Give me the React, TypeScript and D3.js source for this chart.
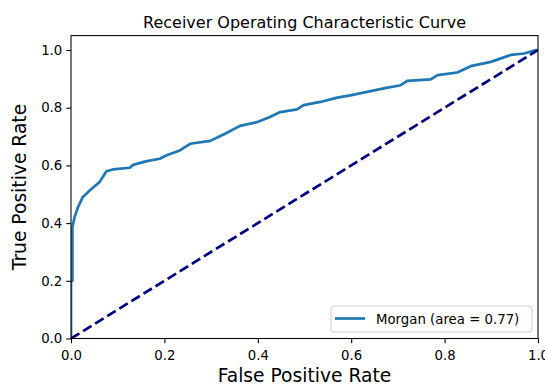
import React, { useEffect, useRef } from 'react';
import * as d3 from 'd3';

// ROC points (false positive rate, true positive rate)
const fpr = [0, 0, 0.003, 0.003, 0.0075, 0.015, 0.025, 0.04, 0.05, 0.061, 0.076, 0.09, 0.126, 0.133,
    0.16, 0.19, 0.205, 0.233, 0.255, 0.298, 0.33, 0.362, 0.398, 0.426, 0.448, 0.484, 0.498, 0.534,
    0.57, 0.598, 0.634, 0.67, 0.706, 0.72, 0.77, 0.785, 0.827, 0.856, 0.899, 0.942, 0.97, 0.996, 1];
const tpr = [0, 0.2, 0.2, 0.385, 0.42, 0.455, 0.49, 0.513, 0.527, 0.542, 0.58, 0.586, 0.592, 0.602,
    0.614, 0.623, 0.635, 0.652, 0.675, 0.685, 0.71, 0.737, 0.75, 0.768, 0.785, 0.794, 0.809, 0.82,
    0.835, 0.843, 0.855, 0.867, 0.878, 0.893, 0.898, 0.913, 0.922, 0.944, 0.959, 0.983, 0.988, 1, 1];

// chance line
const chanceX = [0, 1];
const chanceY = [0, 1];

const xTicks = [0, 0.2, 0.4, 0.6, 0.8, 1.0];
const yTicks = [0, 0.2, 0.4, 0.6, 0.8, 1.0];

const seriesLabel = 'Morgan (area = 0.77)';
const title = 'Receiver Operating Characteristic Curve';
const xLabel = 'False Positive Rate';
const yLabel = 'True Positive Rate';

const W = 545, H = 385;
const FONT = 'DejaVu Sans';

export default function App() {
    const ref = useRef(null);

    useEffect(() => {
        const svg = d3.select(ref.current);
        svg.selectAll('*').remove();

        const left = 71, right = 538, top = 35.6, bottom = 338.5;
        const x = d3.scaleLinear().domain([0, 1]).range([left, right]);
        const y = d3.scaleLinear().domain([0, 1.05]).range([bottom, top]);

        // clip so lines don't spill over the frame
        svg.append('defs').append('clipPath').attr('id', 'plotclip')
            .append('rect').attr('x', left).attr('y', top)
            .attr('width', right - left).attr('height', bottom - top);

        const plot = svg.append('g').attr('clip-path', 'url(#plotclip)');

        const rocPts = fpr.map((f, i) => [f, tpr[i]]);
        const line = d3.line()
            .x(d => x(d[0]))
            .y(d => y(d[1]));

        plot.append('path')
            .datum(rocPts)
            .attr('d', line)
            .attr('fill', 'none')
            .attr('stroke', '#1f77b4')
            .attr('stroke-width', 2.7)
            .attr('stroke-linejoin', 'round');

        const chancePts = chanceX.map((v, i) => [v, chanceY[i]]);
        plot.append('path')
            .datum(chancePts)
            .attr('d', d3.line().x(d => x(d[0])).y(d => y(d[1])))
            .attr('fill', 'none')
            .attr('stroke', '#000080')
            .attr('stroke-width', 2.7)
            .attr('stroke-dasharray', '9.9,4.3');

        // axes
        const xAxis = d3.axisBottom(x).tickValues(xTicks).tickFormat(d3.format('.1f'))
            .tickSize(4.7).tickSizeOuter(0).tickPadding(7);
        const yAxis = d3.axisLeft(y).tickValues(yTicks).tickFormat(d3.format('.1f'))
            .tickSize(4.7).tickSizeOuter(0).tickPadding(4);

        const gx = svg.append('g').attr('transform', `translate(0,${bottom})`).call(xAxis);
        const gy = svg.append('g').attr('transform', `translate(${left},0)`).call(yAxis);
        [gx, gy].forEach(g => {
            g.select('.domain').remove();
            g.selectAll('line').attr('stroke', '#000').attr('stroke-width', 1.07);
            g.selectAll('text').attr('font-family', FONT).attr('font-size', 13.3).attr('fill', '#000');
        });

        // frame
        svg.append('rect')
            .attr('x', left).attr('y', top)
            .attr('width', right - left).attr('height', bottom - top)
            .attr('fill', 'none').attr('stroke', '#000').attr('stroke-width', 1.07);

        // title and labels
        svg.append('text').attr('x', (left + right) / 2).attr('y', 28)
            .attr('text-anchor', 'middle').attr('font-family', FONT).attr('font-size', 16)
            .text(title);
        svg.append('text').attr('x', (left + right) / 2).attr('y', 382)
            .attr('text-anchor', 'middle').attr('font-family', FONT).attr('font-size', 18.7)
            .text(xLabel);
        svg.append('text')
            .attr('transform', `translate(26,${(top + bottom) / 2}) rotate(-90)`)
            .attr('text-anchor', 'middle').attr('font-family', FONT).attr('font-size', 18.7)
            .text(yLabel);

        // legend
        const lg = svg.append('g');
        lg.append('rect').attr('x', 331).attr('y', 306).attr('width', 201).attr('height', 26)
            .attr('rx', 3).attr('fill', '#fff').attr('fill-opacity', 0.8)
            .attr('stroke', '#ccc').attr('stroke-width', 1);
        lg.append('line').attr('x1', 335).attr('x2', 365).attr('y1', 318.5).attr('y2', 318.5)
            .attr('stroke', '#1f77b4').attr('stroke-width', 2.7);
        lg.append('text').attr('x', 376).attr('y', 323.5)
            .attr('font-family', FONT).attr('font-size', 13.3).text(seriesLabel);
    }, []);

    return (
        <svg ref={ref} width={W} height={H}
             style={{ position: 'absolute', left: 0, top: 0, background: '#fff' }} />
    );
}
